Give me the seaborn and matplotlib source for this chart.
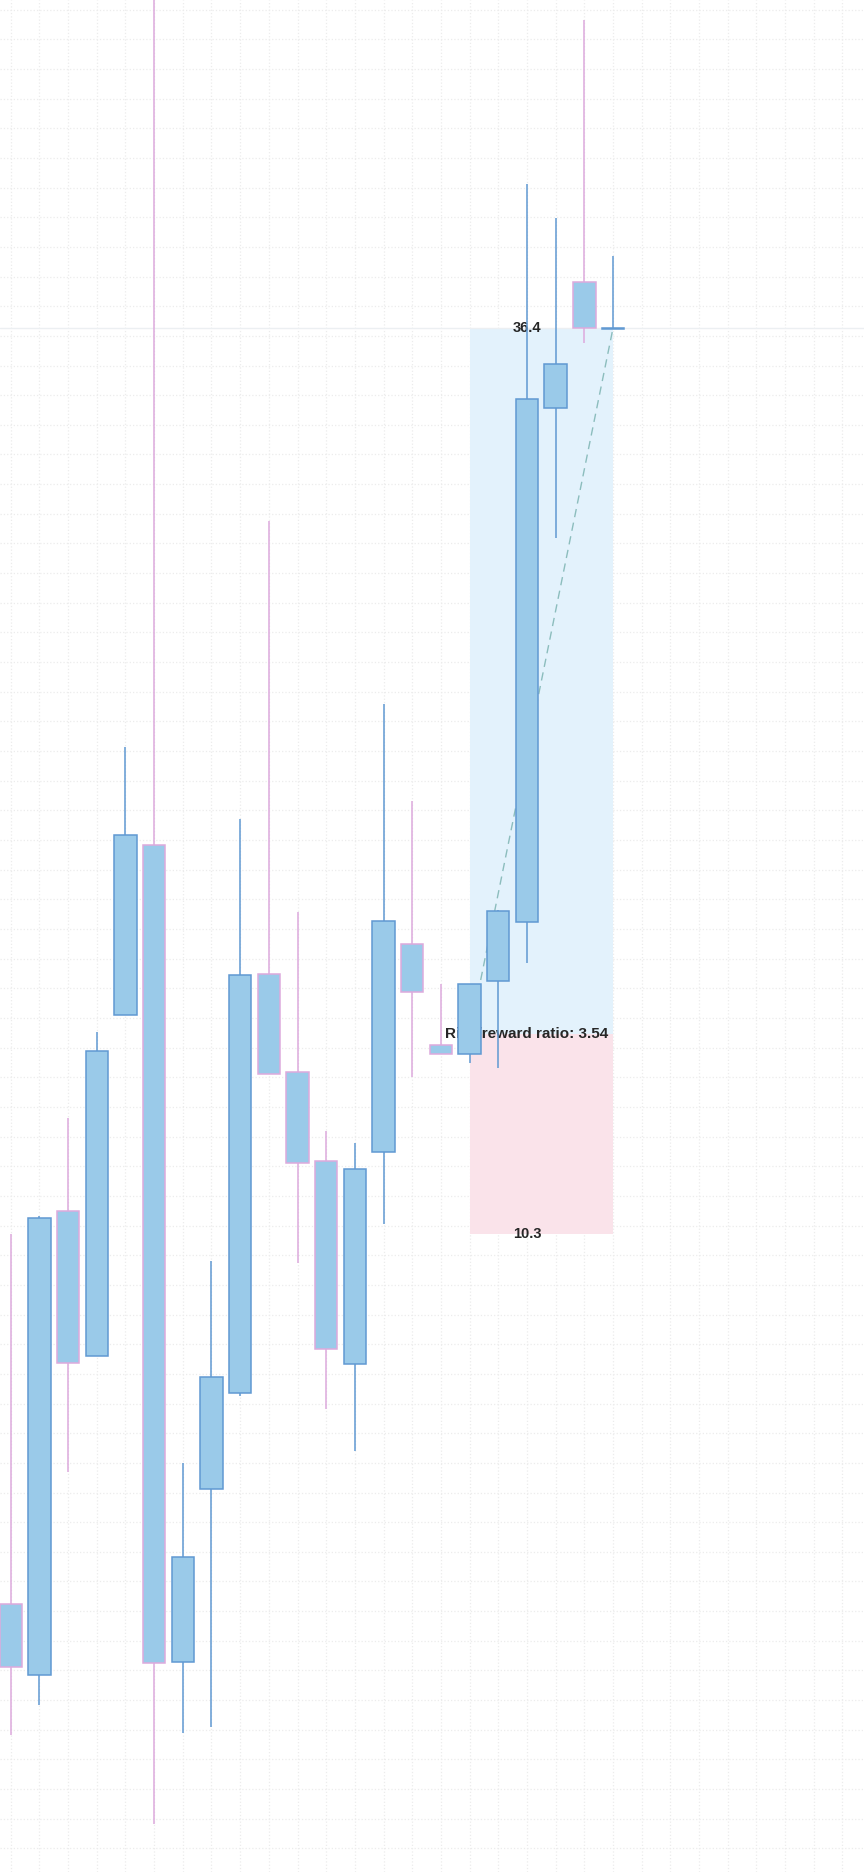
import matplotlib.pyplot as plt
import numpy as np
import pandas as pd
import seaborn as sns

""" Candle data (read from the chart) """
opens = [-0.36, -2.41, 10.96, 6.78, 16.61, 21.51, -2.03, 2.95, 5.72, 17.79, 14.97,
         12.40, 6.55, 12.66, 18.65, 15.74, 15.48, 17.59, 19.29, 34.10, 37.73, 36.37]
highs = [10.30, 10.82, 13.64, 16.12, 24.33, 47.00, 3.70, 9.52, 22.25, 30.84, 19.57,
         13.27, 12.92, 25.57, 22.77, 17.50, 17.50, 19.63, 40.55, 39.57, 45.27, 38.47]
lows = [-4.14, -3.27, 3.44, 6.78, 16.61, -6.70, -4.08, -3.91, 5.63, 14.91, 9.46,
        5.26, 4.05, 10.59, 14.82, 15.48, 15.22, 15.08, 18.11, 30.35, 35.97, 36.37]
closes = [-2.18, 10.76, 6.58, 15.57, 21.79, -2.06, 0.99, 6.18, 17.76, 14.91, 12.34,
          6.98, 12.17, 19.32, 17.27, 15.48, 17.50, 19.60, 34.35, 35.36, 36.40, 36.40]

""" Trade setup """
entry_idx = 16
exit_idx = 21
entry_price = 16.05
take_profit = 36.4
stop_loss = 10.3
label_x = 18

""" Style settings """
body_color = "#9ACAE9"
up_color = "#6099D2"
down_color = "#DDAADD"
profit_color = "#E3F2FC"
loss_color = "#FAE3EA"
trade_line_color = "#8CBDBD"
body_width = 0.78

sns.set_style("whitegrid")
plt.rcParams["font.family"] = ["Liberation Sans", "DejaVu Sans"]

df = pd.DataFrame({"open": opens, "high": highs, "low": lows, "close": closes})
df["x"] = np.arange(len(df))
df["up"] = df["close"] >= df["open"]
edge_colors = np.where(df["up"], up_color, down_color)

fig = plt.figure(figsize=(8.64, 18.72), dpi=100)
ax = fig.add_axes([0, 0, 1, 1])

# Risk / reward zones
ax.fill_between([entry_idx, exit_idx], entry_price, take_profit,
                color=profit_color, linewidth=0, zorder=1)
ax.fill_between([entry_idx, exit_idx], stop_loss, entry_price,
                color=loss_color, linewidth=0, zorder=1)
ax.axhline(take_profit, color="#ECEFF2", linewidth=1, zorder=1.2)

# Labels sit under the candles
ax.text(label_x, take_profit, f"{take_profit:.1f}", ha="center", va="center",
        fontsize=10.5, fontweight="bold", zorder=2)
ax.text(label_x, stop_loss, f"{stop_loss:.1f}", ha="center", va="center",
        fontsize=10.5, fontweight="bold", zorder=2)
ratio = (take_profit - entry_price) / (entry_price - stop_loss)
ax.text(label_x, entry_price, f"Risk/reward ratio: {ratio:.2f}", ha="center",
        va="center", fontsize=11, fontweight="bold", zorder=2)

# Trade path
trade = pd.DataFrame({"x": [entry_idx, exit_idx], "y": [entry_price, take_profit]})
sns.lineplot(data=trade, x="x", y="y", ax=ax, color=trade_line_color,
             linewidth=1, dashes=False, zorder=2.5)
ax.lines[-1].set_dashes((6, 4))

# Candles
ax.vlines(df["x"], df["low"], df["high"], colors=edge_colors, linewidth=1.1, zorder=3)
body_bottom = df[["open", "close"]].min(axis=1)
body_height = (df["close"] - df["open"]).abs().clip(lower=0.03)
ax.bar(df["x"], body_height, bottom=body_bottom, width=body_width,
       color=body_color, edgecolor=edge_colors, linewidth=1.1, zorder=4)

# Axes: full bleed, faint dotted grid
ax.set_xlim(-0.373, 29.75)
ax.set_ylim(-8.08, 45.85)
ax.set_xticks(np.arange(0, 30, 1))
ax.set_yticks(np.arange(-7.40, 46, 0.8544))
ax.grid(True, linestyle=":", color="#ECECEC", linewidth=0.9)
ax.tick_params(length=0, labelbottom=False, labelleft=False)
ax.set_xlabel("")
ax.set_ylabel("")
for spine in ax.spines.values():
    spine.set_visible(False)

plt.savefig("out.png", dpi=100)
